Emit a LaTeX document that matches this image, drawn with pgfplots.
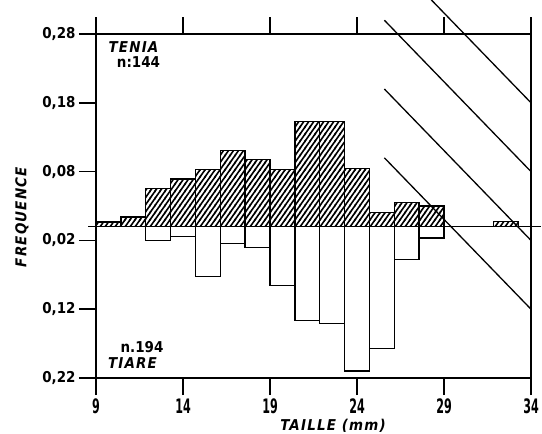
\documentclass[border=0pt]{standalone}
\usepackage{fontspec}
\newfontfamily\cond{DejaVu Sans Condensed}
\newfontfamily\tall{DejaVu Sans Condensed}[FakeStretch=0.62]
\usepackage{pgfplots}
\pgfplotsset{compat=1.18}
\usetikzlibrary{patterns}
% steep diagonal hatching, 5bp apart horizontally
\pgfdeclarepatternformonly{hatch}{\pgfpoint{-1bp}{-1.43bp}}{\pgfpoint{6bp}{8.57bp}}{\pgfpoint{5bp}{7.14bp}}{
  \pgfsetlinewidth{1.6bp}
  \pgfpathmoveto{\pgfpoint{-1bp}{-1.43bp}}
  \pgfpathlineto{\pgfpoint{6bp}{8.57bp}}
  \pgfusepath{stroke}}
\begin{document}
\begin{tikzpicture}
\path[use as bounding box] (-96bp,-56bp) rectangle (446bp,378bp);
\begin{axis}[
  at={(0,0)}, anchor=south west,
  width=435bp, height=344bp, scale only axis,
  xmin=9, xmax=34, ymin=-0.22, ymax=0.28,
  axis line style={line width=1.8bp},
  tick style={line width=1.5bp, black},
  tick align=outside,
  major tick length=17bp,
  xtick={9,14,19,24,29,34},
  xticklabels={9,14,19,24,29,34},
  xtick pos=both, xticklabel pos=lower,
  ytick={-0.22,-0.12,-0.02,0.08,0.18,0.28},
  yticklabels={0{,}22,0{,}12,0{,}02,0{,}08,0{,}18,0{,}28},
  ytick pos=left,
  x tick label style={font=\tall\bfseries\fontsize{20}{20}\selectfont},
  y tick label style={font=\cond\bfseries\fontsize{15}{15}\selectfont},
  clip=false,
]
% TENIA (n=144), hatched, upwards
\addplot[ybar interval, draw=black, line width=1.3bp, pattern=hatch]
  coordinates {
  (9.0000,0.0069) (10.4286,0.0139) (11.8571,0.0556) (13.2857,0.0694)
  (14.7143,0.0833) (16.1429,0.1111) (17.5714,0.0972) (19.0000,0.0833)
  (20.4286,0.1528) (21.8571,0.1528) (23.2857,0.0850) (24.7143,0.0208)
  (26.1429,0.0347) (27.5714,0.0300) (29.0000,0)
  };
\addplot[ybar interval, draw=black, line width=1.3bp, pattern=hatch]
  coordinates {(31.8571,0.0070) (33.2857,0)};
% TIARE (n=194), open bars, downwards
\addplot[ybar interval, draw=black, fill=white, line width=1.3bp]
  coordinates {
  (11.8571,-0.0206) (13.2857,-0.0142) (14.7143,-0.0722) (16.1429,-0.0240)
  (17.5714,-0.0300) (19.0000,-0.0860) (20.4286,-0.1365) (21.8571,-0.1410)
  (23.2857,-0.2100) (24.7143,-0.1770) (26.1429,-0.0480) (27.5714,-0.0167)
  (29.0000,0)
  };
\draw[line width=0.7bp] (axis cs:8.55,0) -- (axis cs:34.55,0);
\draw[line width=1.3bp] (axis cs:34,0.18) -- ++(10bp,0);
\draw[line width=1.3bp] (axis cs:34,0.08) -- ++(10bp,0);
\draw[line width=1.3bp] (axis cs:34,-0.02) -- ++(10bp,0);
\draw[line width=1.3bp] (axis cs:34,-0.12) -- ++(10bp,0);
\end{axis}
\begin{scope}[font=\cond\bfseries\itshape\fontsize{15}{15}\selectfont]
\node at (37.5bp,331bp) {\addfontfeature{LetterSpace=8}TENIA};
\node[font=\cond\bfseries\fontsize{15}{15}\selectfont] at (42.5bp,316bp) {n:144};
\node[font=\cond\bfseries\fontsize{15}{15}\selectfont] at (46bp,31bp) {n.194};
\node at (36.5bp,15bp) {\addfontfeature{LetterSpace=8}TIARE};
\node at (237bp,-48bp) {\addfontfeature{LetterSpace=8}TAILLE (mm)};
\node[rotate=90] at (-74bp,161bp) {\addfontfeature{LetterSpace=8}FREQUENCE};
\end{scope}
\end{tikzpicture}
\end{document}
